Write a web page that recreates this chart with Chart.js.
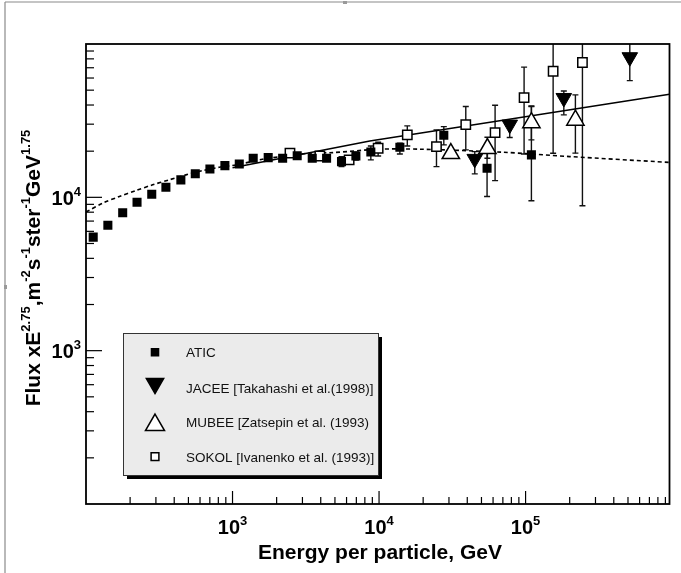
<!DOCTYPE html>
<html>
<head>
<meta charset="utf-8">
<script src="https://cdn.jsdelivr.net/npm/chart.js@4.4.0/dist/chart.umd.min.js"></script>
<style>
  html, body { margin: 0; padding: 0; background: #fff; }
  canvas { display: block; }
</style>
</head>
<body>
<canvas id="grafikFlux" width="681" height="573"></canvas>
<script>
// Data ATIC (kotak hitam)
const aticE  = [112, 141, 178, 223, 281, 351, 444, 557, 701, 887, 1112, 1384, 1752, 2198, 2763, 3500, 4385, 5543, 6950, 8790, 13870, 27670, 54600, 109600];
const aticF  = [5500, 6580, 7940, 9290, 10480, 11640, 13000, 14230, 15320, 16100, 16520, 17990, 18150, 17990, 18700, 17990, 17990, 17100, 18600, 19770, 21220, 25420, 15490, 18920];
const aticLo = [null, null, null, null, null, null, null, null, null, null, null, null, null, null, null, null, null, 15850, 17500, 17540, 19190, 21980, 10120, 9510];
const aticHi = [null, null, null, null, null, null, null, null, null, null, null, null, null, null, null, null, null, 18400, 19800, 21630, 22540, 28900, 20890, 39080];

// Data JACEE (segitiga terbalik)
const jaceeE  = [45000, 77950, 182400, 514400];
const jaceeF  = [17820, 29800, 44460, 82000];
const jaceeLo = [14220, 24550, 34500, 57700];
const jaceeHi = [19860, 31200, 49400, 120000];

// Data MUBEE (segitiga kosong)
const mubeeE  = [30900, 54900, 109600, 218800];
const mubeeF  = [19280, 20800, 30690, 31840];
const mubeeLo = [null, 17990, 23710, 19410];
const mubeeHi = [null, 24660, 39450, 46550];

// Data SOKOL (kotak kosong)
const sokolE  = [2466, 3944, 6250, 9860, 15590, 24660, 39080, 61940, 97700, 154200, 244400];
const sokolF  = [19400, 18600, 17540, 20900, 25530, 21430, 29800, 26420, 44700, 66400, 75700];
const sokolLo = [null, null, null, 18620, 21630, 15850, 20400, 12860, 19190, 19400, 8810];
const sokolHi = [null, null, null, 22850, 29240, 27530, 39080, 39900, 70700, 130000, 130000];

// Garis model
const solidE = [1000, 8650, 960000];
const solidF = [15600, 23300, 47100];
const dashE = [100, 103, 130, 169, 219, 285, 370, 481, 625, 811, 1054, 1600, 2400, 3373, 4864, 10120, 18970, 70300, 200400, 960000];
const dashF = [8050, 8150, 9170, 10120, 11070, 12070, 13010, 14010, 14940, 15710, 16270, 17700, 18700, 19410, 19580, 20610, 20610, 19680, 18440, 16900];

// Label sumbu
const xMajor = [1e3, 1e4, 1e5];
const xMajorExp = ['3', '4', '5'];
const yMajor = [1e3, 1e4];
const yMajorExp = ['3', '4'];
const legendLabels = ['ATIC', 'JACEE [Takahashi et al.(1998)]', 'MUBEE [Zatsepin et al. (1993)', 'SOKOL [Ivanenko et al. (1993)]'];

const FONT = '"Liberation Sans", Arial, Helvetica, sans-serif';

function titik(xs, ys) {
    return xs.map((x, i) => ({ x: x, y: ys[i] }));
}

function teksSup(ctx, parts, x, y, align, size, supSize) {
    // parts: [[teks, sup?], ...]
    let w = 0;
    parts.forEach(p => {
        ctx.font = 'bold ' + (p[1] ? supSize : size) + 'px ' + FONT;
        w += ctx.measureText(p[0]).width;
    });
    let cx = align === 'center' ? x - w / 2 : (align === 'right' ? x - w : x);
    ctx.textAlign = 'left';
    ctx.textBaseline = 'alphabetic';
    parts.forEach(p => {
        ctx.font = 'bold ' + (p[1] ? supSize : size) + 'px ' + FONT;
        ctx.fillText(p[0], cx, p[1] ? y - size * 0.45 : y);
        cx += ctx.measureText(p[0]).width;
    });
}

function garis(ctx, x1, y1, x2, y2) {
    ctx.beginPath();
    ctx.moveTo(x1, y1);
    ctx.lineTo(x2, y2);
    ctx.stroke();
}

function penanda(ctx, style, x, y, r, isi) {
    ctx.beginPath();
    if (style === 'rect') {
        const s = r * Math.SQRT1_2;
        ctx.rect(x - s, y - s, 2 * s, 2 * s);
    } else {
        const dir = style === 'down' ? -1 : 1;
        ctx.moveTo(x, y - dir * r);
        ctx.lineTo(x + r * 0.866, y + dir * r / 2);
        ctx.lineTo(x - r * 0.866, y + dir * r / 2);
        ctx.closePath();
    }
    ctx.fillStyle = isi;
    ctx.fill();
    ctx.strokeStyle = '#000';
    ctx.lineWidth = 1.5;
    ctx.stroke();
}

const errorBars = {
    id: 'errorBars',
    beforeDatasetsDraw(chart) {
        const ctx = chart.ctx, a = chart.chartArea;
        const xs = chart.scales.x, ys = chart.scales.y;
        const sets = [[aticE, aticLo, aticHi], [jaceeE, jaceeLo, jaceeHi], [mubeeE, mubeeLo, mubeeHi], [sokolE, sokolLo, sokolHi]];
        ctx.save();
        ctx.beginPath();
        ctx.rect(a.left, a.top, a.right - a.left, a.bottom - a.top);
        ctx.clip();
        ctx.strokeStyle = '#111';
        ctx.lineWidth = 1.4;
        sets.forEach(s => {
            s[0].forEach((e, i) => {
                if (s[1][i] == null) return;
                const px = xs.getPixelForValue(e);
                const y1 = ys.getPixelForValue(s[1][i]);
                const y2 = ys.getPixelForValue(s[2][i]);
                garis(ctx, px, y1, px, y2);
                garis(ctx, px - 3, y1, px + 3, y1);
                garis(ctx, px - 3, y2, px + 3, y2);
            });
        });
        ctx.restore();
    }
};

const bingkai = {
    id: 'bingkai',
    beforeDraw(chart) {
        const ctx = chart.ctx;
        ctx.save();
        ctx.fillStyle = '#fff';
        ctx.fillRect(0, 0, chart.width, chart.height);
        ctx.strokeStyle = '#8a8a8a';
        ctx.lineWidth = 1.2;
        garis(ctx, 5, 2, 681, 2);
        garis(ctx, 5, 2, 5, 573);
        ctx.fillStyle = '#999';
        ctx.fillRect(343, 1, 4, 3);
        ctx.fillRect(4, 285, 3, 4);
        ctx.restore();
    },
    afterDraw(chart) {
        const ctx = chart.ctx, a = chart.chartArea;
        const xs = chart.scales.x, ys = chart.scales.y;
        ctx.save();
        ctx.strokeStyle = '#000';
        ctx.lineWidth = 1.2;
        // tick sumbu x
        for (let d = 100; d < 1e6; d *= 10) {
            for (let k = 1; k <= 9; k++) {
                const v = d * k;
                if (v <= xs.min || v >= xs.max) continue;
                const px = xs.getPixelForValue(v);
                garis(ctx, px, a.bottom, px, a.bottom - (k === 1 ? 13 : 7));
            }
        }
        // tick sumbu y
        for (let d = 100; d < 1e5; d *= 10) {
            for (let k = 1; k <= 9; k++) {
                const v = d * k;
                if (v <= ys.min || v >= ys.max) continue;
                const py = ys.getPixelForValue(v);
                garis(ctx, a.left, py, a.left + (k === 1 ? 16 : 8), py);
            }
        }
        ctx.lineWidth = 1.8;
        ctx.strokeRect(a.left, a.top, a.right - a.left, a.bottom - a.top);

        ctx.fillStyle = '#000';
        xMajor.forEach((v, i) => {
            teksSup(ctx, [['10', false], [xMajorExp[i], true]], xs.getPixelForValue(v), 534, 'center', 20, 13);
        });
        yMajor.forEach((v, i) => {
            teksSup(ctx, [['10', false], [yMajorExp[i], true]], 81, ys.getPixelForValue(v) + 7.5, 'right', 20, 13);
        });
        // judul sumbu
        ctx.font = 'bold 21px ' + FONT;
        ctx.textAlign = 'center';
        ctx.fillText('Energy per particle, GeV', 380, 559);
        ctx.save();
        ctx.translate(39.5, 268);
        ctx.rotate(-Math.PI / 2);
        teksSup(ctx, [['Flux xE', false], ['2.75', true], [',m', false], ['-2', true], ['s', false], ['-1', true],
            ['ster', false], ['-1', true], ['GeV', false], ['1.75', true]], 0, 0, 'center', 21, 13);
        ctx.restore();

        // legenda
        const lx = 123, ly = 333, lw = 255, lh = 142;
        ctx.fillStyle = '#000';
        ctx.fillRect(lx + 4, ly + 4, lw, lh);
        ctx.fillStyle = '#ebebeb';
        ctx.fillRect(lx, ly, lw, lh);
        ctx.strokeStyle = '#333';
        ctx.lineWidth = 1;
        ctx.strokeRect(lx + 0.5, ly + 0.5, lw, lh);
        penanda(ctx, 'rect', 155, 352.3, 5, '#000');
        penanda(ctx, 'down', 155, 383.5, 10, '#000');
        penanda(ctx, 'up', 155, 425, 11, '#fff');
        penanda(ctx, 'rect', 155, 456.7, 5.5, '#fff');
        ctx.fillStyle = '#111';
        ctx.font = '13.5px ' + FONT;
        ctx.textAlign = 'left';
        ctx.textBaseline = 'alphabetic';
        const base = [357, 393, 427.3, 461.5];
        legendLabels.forEach((t, i) => ctx.fillText(t, 186, base[i]));
        ctx.restore();
    }
};

const configFlux = {
    type: 'scatter',
    data: {
        datasets: [
            { label: 'ATIC', data: titik(aticE, aticF), pointStyle: 'rect', pointRadius: 6.4,
              backgroundColor: '#000', borderColor: '#000', borderWidth: 0 },
            { label: 'JACEE', data: titik(jaceeE, jaceeF), pointStyle: 'triangle', rotation: 180, pointRadius: 9,
              backgroundColor: '#000', borderColor: '#000', borderWidth: 1 },
            { label: 'MUBEE', data: titik(mubeeE, mubeeF), pointStyle: 'triangle', pointRadius: 10,
              backgroundColor: '#fff', borderColor: '#000', borderWidth: 1.5 },
            { label: 'SOKOL', data: titik(sokolE, sokolF), pointStyle: 'rect', pointRadius: 6.6,
              backgroundColor: '#fff', borderColor: '#000', borderWidth: 1.5 },
            { type: 'line', label: 'solid', data: titik(solidE, solidF), borderColor: '#000', borderWidth: 1.5,
              pointRadius: 0, fill: false, tension: 0 },
            { type: 'line', label: 'dash', data: titik(dashE, dashF), borderColor: '#000', borderWidth: 1.6,
              borderDash: [4, 3], pointRadius: 0, fill: false, tension: 0.3 }
        ]
    },
    options: {
        responsive: false,
        animation: false,
        devicePixelRatio: 1,
        layout: { padding: { left: 86, right: 11, top: 44, bottom: 69 } },
        scales: {
            x: { type: 'logarithmic', min: 100, max: 960000, display: false },
            y: { type: 'logarithmic', min: 100, max: 100000, display: false }
        },
        plugins: {
            legend: { display: false },
            tooltip: { enabled: false }
        }
    },
    plugins: [bingkai, errorBars]
};

var grafikFlux = new Chart(document.getElementById('grafikFlux'), configFlux);
</script>
</body>
</html>
